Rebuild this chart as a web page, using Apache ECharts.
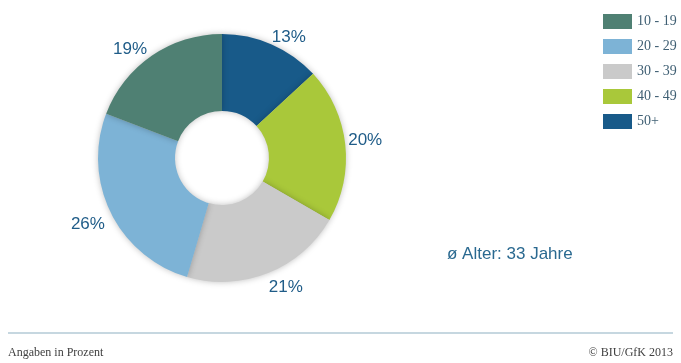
<!DOCTYPE html>
<html>
<head>
<meta charset="utf-8">
<script src="https://cdn.jsdelivr.net/npm/echarts@6/dist/echarts.min.js"></script>
<style>html,body{margin:0;padding:0;background:#fff}#c{width:681px;height:363px}</style>
</head>
<body>
<div id="c"></div>
<script>
// Data (clockwise from 12 o'clock)
const categories = ['50+', '40 - 49', '30 - 39', '20 - 29', '10 - 19'];
const values = [13, 20, 21, 26, 19];
const colors = ['#185a89', '#a9c83a', '#cacaca', '#7db3d6', '#4f8073'];
const legendOrder = ['10 - 19', '20 - 29', '30 - 39', '40 - 49', '50+'];
const note = 'ø Alter: 33 Jahre';
const footLeft = 'Angaben in Prozent';
const footRight = '© BIU/GfK 2013';

// label nudges (style only)
const labelNudge = [[-9, 2], [-12, -3], [-8, 5], [8, 7], [6, 2]];

const chart = echarts.init(document.getElementById('c'), null, {renderer: 'canvas'});
chart.setOption({
  animation: false,
  backgroundColor: '#fff',
  legend: {
    orient: 'vertical',
    left: 598, top: 9,
    itemWidth: 29, itemHeight: 15, itemGap: 10, itemStyle: {borderWidth: 0},
    icon: 'rect',
    data: legendOrder,
    textStyle: {fontFamily: 'Liberation Serif, serif', fontSize: 14, color: '#3f5f73'}
  },
  series: [{
    type: 'pie',
    center: [222, 158],
    radius: [47, 124],
    startAngle: 90,
    clockwise: true,
    data: categories.map((n, i) => ({name: n, value: values[i], itemStyle: {color: colors[i]}})),
    itemStyle: {shadowBlur: 6, shadowColor: 'rgba(0,0,0,0.25)'},
    label: {
      show: true, position: 'outside',
      formatter: p => p.value + '%',
      fontFamily: 'Liberation Sans, Arial, sans-serif', fontSize: 17, color: '#1f5c88'
    },
    labelLine: {show: false, length: 10, length2: 0},
    labelLayout: p => ({dx: labelNudge[p.dataIndex][0], dy: labelNudge[p.dataIndex][1]}),
    emphasis: {disabled: true}
  }],
  graphic: [
    {type: 'text', left: 447, top: 246, style: {text: note, font: '17px "Liberation Sans", Arial, sans-serif', fill: '#2a6990'}},
    {type: 'line', shape: {x1: 8, y1: 333, x2: 673, y2: 333}, style: {stroke: '#b3cad6', lineWidth: 1.5}},
    {type: 'text', left: 8, top: 347, style: {text: footLeft, font: '12px "Liberation Serif", serif', fill: '#404040'}},
    {type: 'text', right: 8, top: 347, style: {text: footRight, font: '12px "Liberation Serif", serif', fill: '#404040'}}
  ]
});
</script>
</body>
</html>
